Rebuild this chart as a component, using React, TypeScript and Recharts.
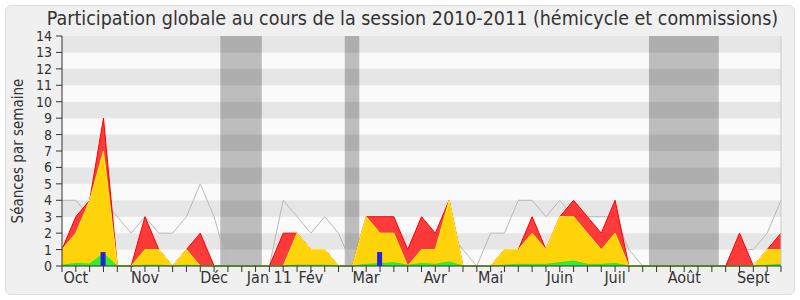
import React from 'react';
import { ComposedChart, Area, Line, Bar, XAxis, YAxis, ReferenceArea, ReferenceLine } from 'recharts';

// weekly values, from the first week of October 2010 to the end of September 2011
const moyenne = [4, 4, 3, 4, 3, 2, 3, 2, 2, 3, 5, 3, 0, 0, 0, 0, 4, 3, 2, 3, 2, 0, 1, 2, 2, 1, 2, 2, 2, 1, 0, 2, 2, 4, 4, 3, 4, 3, 3, 3, 3, 1, 0, 0, 0, 0, 0, 0, 0, 1, 1, 2, 4];
const totales = [1, 3, 4, 9, 0, 0, 3, 1, 0, 1, 2, 0, 0, 0, 0, 0, 2, 2, 1, 1, 0, 0, 3, 3, 3, 1, 3, 2, 4, 0, 0, 0, 1, 1, 3, 1, 3, 4, 3, 2, 4, 0, 0, 0, 0, 0, 0, 0, 0, 2, 0, 1, 2];
const commission = [1, 2, 4, 7, 0, 0, 1, 1, 0, 1, 0, 0, 0, 0, 0, 0, 0, 2, 1, 1, 0, 0, 3, 2, 2, 0, 1, 1, 4, 0, 0, 0, 1, 1, 2, 1, 3, 3, 2, 1, 2, 0, 0, 0, 0, 0, 0, 0, 0, 0, 0, 1, 1];
const interventions = [0.05, 0.15, 0.12, 0.75, 0, 0, 0.05, 0.05, 0, 0.05, 0.02, 0, 0, 0, 0, 0, 0, 0.05, 0.05, 0.05, 0, 0, 0.1, 0.15, 0.2, 0.05, 0.15, 0.1, 0.25, 0, 0, 0, 0.05, 0.1, 0.1, 0.1, 0.2, 0.3, 0.1, 0.1, 0.15, 0, 0, 0, 0, 0, 0, 0, 0, 0, 0, 0.05, 0.1];
const questionWeeks = [3, 23];
const questionValues = [0.85, 0.85];

const vacStart = [11.45, 20.45, 42.45];
const vacEnd = [14.45, 21.5, 47.5];

const monthNames = ['Oct', 'Nov', 'Déc', 'Jan 11', 'Fév', 'Mar', 'Avr', 'Mai', 'Juin', 'Juil', 'Août', 'Sept'];
const monthWeeks = [1, 6, 11, 15, 18, 22, 27, 31, 36, 40, 45, 50];

const yTicks = [0, 1, 2, 3, 4, 5, 6, 7, 8, 9, 10, 11, 12, 13, 14];

const weekIdx = moyenne.map((_, i) => i);

const data = weekIdx.map((i) => {
  const q = questionWeeks.indexOf(i);
  return {
    x: i,
    moyenne: moyenne[i],
    totales: totales[i],
    commission: commission[i],
    interventions: interventions[i],
    questions: q >= 0 ? questionValues[q] : null,
  };
});

const FONT = '"DejaVu Sans Condensed", "DejaVu Sans", sans-serif';

const MonthTick = (props: any) => {
  const { x, y, payload } = props;
  const k = monthWeeks.indexOf(payload.value);
  if (k < 0) return <g />;
  return (
    <text x={x} y={y} dy="0.71em" textAnchor="middle" fill="#333" fontSize={16} fontFamily={FONT}>
      {monthNames[k]}
    </text>
  );
};

export default function App() {
  return (
    <div style={{ position: 'absolute', left: 0, top: 0, width: 800, height: 300, background: '#fff', fontFamily: FONT }}>
      <div
        style={{
          position: 'absolute', left: 5, top: 5, width: 788, height: 288,
          background: '#f0f0f0', border: '1px solid #dedede', borderRadius: 6,
        }}
      />
      <div
        style={{
          position: 'absolute', left: 0, top: 7, width: 825, textAlign: 'center',
          fontSize: 19.5, color: '#333', whiteSpace: 'nowrap',
        }}
      >
        Participation globale au cours de la session 2010-2011 (hémicycle et commissions)
      </div>
      <div
        style={{
          position: 'absolute', left: 18, top: 151, transform: 'translate(-50%, -50%) rotate(-90deg)',
          fontSize: 15, color: '#333', whiteSpace: 'nowrap',
        }}
      >
        Séances par semaine
      </div>
      <div style={{ position: 'absolute', left: 0, top: 0 }}>
        <ComposedChart width={800} height={300} data={data} margin={{ top: 36, right: 19, left: 0, bottom: 0 }}>
          <XAxis
            dataKey="x"
            type="number"
            domain={[0, 52]}
            ticks={weekIdx}
            interval={0}
            height={34}
            tickSize={6}
            tickMargin={0}
            axisLine={{ stroke: '#333' }}
            tickLine={{ stroke: '#333' }}
            tick={MonthTick}
          />
          <XAxis
            xAxisId="top"
            orientation="top"
            type="number"
            domain={[0, 52]}
            ticks={weekIdx}
            interval={0}
            height={0}
            mirror
            tickSize={2}
            axisLine={false}
            tickLine={{ stroke: '#222' }}
            tick={false}
          />
          <YAxis
            type="number"
            domain={[0, 14]}
            ticks={yTicks}
            interval={0}
            width={62}
            tickSize={6}
            tickMargin={4}
            axisLine={{ stroke: '#333' }}
            tickLine={{ stroke: '#333' }}
            tick={{ fill: '#333', fontSize: 14, fontFamily: FONT }}
          />
          {yTicks.slice(0, -1).map((t) => (
            <ReferenceArea
              key={'s' + t}
              y1={t}
              y2={t + 1}
              fill={t % 2 === 1 ? '#e6e6e6' : '#fafafa'}
              fillOpacity={1}
              stroke="none"
              zIndex={10}
            />
          ))}
          {vacStart.map((s, i) => (
            <ReferenceArea
              key={'v' + i}
              x1={s}
              x2={vacEnd[i]}
              fill="#000"
              fillOpacity={0.245}
              stroke="none"
              zIndex={20}
            />
          ))}
          <Line
            type="linear"
            dataKey="moyenne"
            stroke="#b9b9b9"
            strokeWidth={1}
            dot={false}
            activeDot={false}
            isAnimationActive={false}
            zIndex={30}
          />
          <Area
            type="linear"
            dataKey="totales"
            fill="#ff1a1a"
            fillOpacity={0.85}
            stroke="#ff0000"
            strokeWidth={1}
            dot={false}
            activeDot={false}
            isAnimationActive={false}
            zIndex={40}
          />
          <Area
            type="linear"
            dataKey="commission"
            fill="#ffd30a"
            fillOpacity={1}
            stroke="#ffee22"
            strokeWidth={1}
            dot={false}
            activeDot={false}
            isAnimationActive={false}
            zIndex={50}
          />
          <Area
            type="linear"
            dataKey="interventions"
            fill="#33ee33"
            fillOpacity={1}
            stroke="#22ee22"
            strokeWidth={1}
            dot={false}
            activeDot={false}
            isAnimationActive={false}
            zIndex={60}
          />
          <Bar dataKey="questions" fill="#2424dd" barSize={5} isAnimationActive={false} zIndex={70} />
          <ReferenceLine x={52} stroke="#c8c8c8" zIndex={80} />
        </ComposedChart>
      </div>
    </div>
  );
}
